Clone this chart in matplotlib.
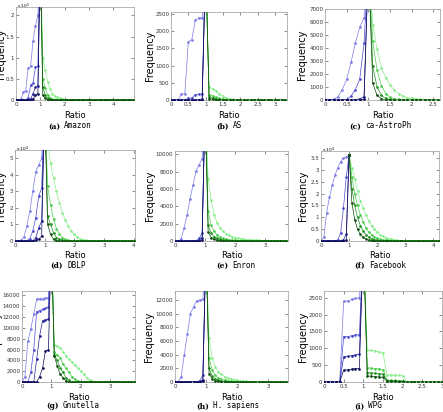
import numpy as np
import matplotlib.pyplot as plt
from matplotlib.ticker import MultipleLocator, FuncFormatter
from matplotlib.offsetbox import TextArea, HPacker, AnchoredOffsetbox

# one entry per panel, (a) .. (i)
letters = ['a', 'b', 'c', 'd', 'e', 'f', 'g', 'h', 'i']
names = ['Amazon', 'AS', 'ca-AstroPh', 'DBLP', 'Enron', 'Facebook',
         'Gnutella', 'H. sapiens', 'WPG']
x_last = [4.8, 3.3, 2.6, 4.0, 3.7, 4.2, 3.8, 3.6, 3.0]      # last ratio bin
x_lim = [4.85, 3.35, 2.65, 4.05, 3.75, 4.2, 3.85, 3.65, 3.0]
y_lim = [2.2, 2560, 7000, 5.5, 10400, 3.8, 16800, 13300, 2700]
x_tick = [1, 0.5, 0.5, 1, 1, 1, 1, 1, 0.5]
y_tick = [0.5, 500, 1000, 1, 2000, 0.5, 2000, 2000, 500]
y_exp = [5, None, None, 4, None, 4, None, None, None]
# frequency in the ratio = 1 bin
peak = [3.5, 4000, 10500, 8.5, 16000, 3.65, 26000, 20000, 4200]

# ratio < 1 : bins 0.0 .. 0.9 (light -> dark)
blue = [
    [[0, 0, 0.02, 0.18, 0.22, 0.75, 0.8, 1.4, 1.75, 2.0],
     [0, 0, 0, 0, 0, 0.05, 0.35, 0.4, 0.78, 0.8],
     [0, 0, 0, 0, 0, 0, 0.02, 0.15, 0.3, 0.33],
     [0, 0, 0, 0, 0, 0, 0, 0.02, 0.12, 0.15]],
    [[0, 0, 0, 170, 180, 1700, 1750, 2330, 2380, 2400],
     [0, 0, 0, 0, 0, 50, 60, 150, 170, 170],
     [0, 0, 0, 0, 0, 0, 0, 0, 10, 20],
     [0, 0, 0, 0, 0, 0, 0, 0, 0, 0]],
    [[0, 0, 50, 250, 800, 1600, 2900, 4400, 5600, 6300],
     [0, 0, 0, 0, 0, 50, 300, 800, 1600, 4400],
     [0, 0, 0, 0, 0, 0, 0, 30, 100, 250],
     [0, 0, 0, 0, 0, 0, 0, 0, 20, 60]],
    [[0, 0, 0.05, 0.25, 0.9, 1.8, 3.0, 4.2, 4.6, 5.0],
     [0, 0, 0, 0, 0.02, 0.15, 0.6, 1.4, 2.7, 3.2],
     [0, 0, 0, 0, 0, 0, 0.02, 0.2, 0.8, 1.2],
     [0, 0, 0, 0, 0, 0, 0, 0.05, 0.1, 0.3]],
    [[0, 0, 200, 1500, 3000, 4900, 6500, 8100, 8800, 9500],
     [0, 0, 0, 0, 0, 0, 0, 50, 300, 900],
     [0, 0, 0, 0, 0, 0, 0, 0, 100, 400],
     [0, 0, 0, 0, 0, 0, 0, 0, 20, 100]],
    [[0, 0.15, 1.2, 1.85, 2.35, 2.8, 3.1, 3.35, 3.5, 3.55],
     [0, 0, 0, 0, 0, 0, 0.05, 0.35, 1.4, 2.7],
     [0, 0, 0, 0, 0, 0, 0, 0, 0.05, 0.3],
     [0, 0, 0, 0, 0, 0, 0, 0, 0, 0.05]],
    [[0, 1000, 7500, 9800, 12500, 15300, 15400, 15400, 15500, 15600],
     [0, 0, 0, 1800, 6000, 13000, 13200, 13400, 13600, 13800],
     [0, 0, 0, 0, 0, 4200, 8500, 11300, 11500, 11600],
     [0, 0, 0, 0, 0, 0, 1000, 2500, 5800, 5900]],
    [[0, 0, 800, 4000, 7000, 10000, 11000, 11900, 12000, 12100],
     [0, 0, 0, 0, 0, 0, 0, 50, 200, 1000],
     [0, 0, 0, 0, 0, 0, 0, 0, 50, 300],
     [0, 0, 0, 0, 0, 0, 0, 0, 0, 100]],
    [[0, 0, 0, 0, 0, 2400, 2400, 2450, 2480, 2500],
     [0, 0, 0, 0, 0, 1350, 1350, 1370, 1400, 1400],
     [0, 0, 0, 0, 0, 750, 760, 780, 800, 820],
     [0, 0, 0, 0, 0, 350, 360, 380, 400, 400]],
]

# ratio > 1 : bins 1.1, 1.2, ... (light -> dark), zero after the listed values
green = [
    [[1.0, 0.72, 0.42, 0.26, 0.15, 0.09, 0.06, 0.04, 0.03, 0.02, 0.01, 0.01],
     [0.5, 0.28, 0.12, 0.05, 0.02, 0.01],
     [0.3, 0.12, 0.04, 0.02, 0.01],
     [0.12, 0.04, 0.01]],
    [[380, 330, 260, 180, 110, 60, 30, 15, 5],
     [160, 120, 80, 45, 25, 10, 5],
     [100, 60, 35, 15, 5],
     [40, 20, 5]],
    [[5800, 3900, 2500, 1700, 1150, 750, 480, 300, 190, 120, 70, 40, 20, 10, 5],
     [4500, 2300, 1100, 500, 230, 100, 40, 15, 5],
     [2600, 1000, 350, 120, 40, 10],
     [1300, 350, 90, 20]],
    [[6.0, 4.7, 3.8, 3.0, 2.3, 1.7, 1.25, 0.9, 0.6, 0.4, 0.25, 0.15, 0.08, 0.04, 0.02, 0.01],
     [3.3, 2.2, 1.3, 0.75, 0.4, 0.2, 0.1, 0.05, 0.02],
     [1.5, 1.0, 0.5, 0.2, 0.1, 0.04, 0.01],
     [1.0, 0.4, 0.1, 0.03]],
    [[7200, 4700, 3000, 2100, 1500, 1100, 850, 650, 500, 400, 320, 250, 200,
      160, 130, 100, 80, 60, 50, 40, 30, 20, 15, 10, 5],
     [3500, 1800, 1100, 700, 450, 300, 200, 150, 100, 70, 50, 30, 20, 10],
     [1800, 900, 500, 300, 200, 120, 80, 50, 30, 15, 5],
     [1000, 400, 200, 100, 50, 20]],
    [[3.1, 2.6, 2.1, 1.7, 1.4, 1.1, 0.85, 0.65, 0.5, 0.37, 0.27, 0.2, 0.14,
      0.1, 0.07, 0.05, 0.03, 0.02, 0.01],
     [2.7, 2.0, 1.5, 1.1, 0.8, 0.55, 0.38, 0.26, 0.18, 0.12, 0.08, 0.05, 0.03, 0.02, 0.01],
     [2.2, 1.5, 1.0, 0.65, 0.42, 0.27, 0.17, 0.1, 0.06, 0.03, 0.02, 0.01],
     [1.6, 0.9, 0.5, 0.28, 0.15, 0.08, 0.04, 0.02, 0.01]],
    [[6900, 6600, 6300, 5600, 4800, 4200, 3700, 3100, 2600, 2000, 1400, 800, 400, 100],
     [5500, 5000, 4500, 3300, 2500, 1800, 1000, 500, 200],
     [5000, 4000, 2600, 1800, 800, 300],
     [4800, 3000, 1400, 800, 200]],
    [[6500, 3500, 2200, 1500, 1100, 800, 600, 450, 350, 250, 180, 130, 100,
      70, 50, 30, 20, 10],
     [3500, 1800, 1000, 600, 400, 250, 150, 100, 60, 30, 10],
     [2000, 900, 500, 250, 150, 80, 40, 20],
     [1200, 500, 200, 100, 40, 10]],
    [[950, 940, 920, 900, 860, 220, 210, 210, 200, 190],
     [420, 410, 400, 390, 370, 60, 50, 50, 40, 40],
     [280, 270, 260, 250, 230, 40, 30, 30, 25, 20],
     [180, 170, 160, 150, 140, 20, 20, 15, 10, 10]],
]

blue_cols = ['#7b7be6', '#4a4ad0', '#24249a', '#0a0a55']
green_cols = ['#86ee86', '#4ccc4c', '#1f8f1f', '#0b4d0b']

# panel boxes in pixels: left, right, top, bottom
boxes = [(16, 134, 7, 100), (171, 287, 12, 100), (325, 440, 9, 100),
         (15, 135, 150, 241), (175, 288, 151, 241), (321, 439, 151, 241),
         (22, 135, 291, 382), (175, 288, 291, 382), (324, 442, 291, 382)]
ylab_x = [6, 155, 307, 6, 155, 308, 2, 154, 308]
cap_pos = [(70, 126), (229, 126), (380, 126), (68, 265), (236, 265), (380, 265),
           (73, 406), (228, 406), (368, 406)]

W, H = 443, 412
fig = plt.figure(figsize=(W / 100, H / 100), dpi=100)

fmt = FuncFormatter(lambda v, p: f'{v:g}')

for k in range(9):
    l, r, t, b = boxes[k]
    ax = fig.add_axes([l / W, 1 - b / H, (r - l) / W, (b - t) / H])

    xb = np.round(np.arange(0, 1.0, 0.1), 1)
    xg = np.round(np.arange(1.0, x_last[k] + 0.05, 0.1), 1)
    for j in range(4):
        yb = list(blue[k][j]) + [peak[k]]
        ax.plot(list(xb) + [1.0], yb, color=blue_cols[j], lw=0.5,
                marker='.', ms=1.8, zorder=3 + j)
        gv = [peak[k]] + list(green[k][j])
        gv = gv + [0] * (len(xg) - len(gv))
        ax.plot(xg, gv, color=green_cols[j], lw=0.5, marker='.', ms=1.8,
                zorder=3 + j)

    ax.set_xlim(0, x_lim[k])
    ax.set_ylim(0, y_lim[k])
    ax.xaxis.set_major_locator(MultipleLocator(x_tick[k]))
    ax.yaxis.set_major_locator(MultipleLocator(y_tick[k]))
    ax.xaxis.set_major_formatter(fmt)
    ax.yaxis.set_major_formatter(fmt)
    ax.tick_params(direction='in', length=2, width=0.4, labelsize=4,
                   pad=1.2, top=True, right=True, colors='#333333')
    for s in ax.spines.values():
        s.set_color('#aaaaaa')
        s.set_linewidth(0.6)

    ax.set_xlabel('Ratio', fontsize=6, labelpad=0)
    ax.xaxis.set_label_coords(0.5, -10.5 / (b - t))
    ax.set_ylabel('Frequency', fontsize=7, labelpad=0)
    ax.yaxis.set_label_coords((ylab_x[k] - l) / (r - l), 0.5)

    if y_exp[k]:
        ax.annotate(r'x 10$^{%d}$' % y_exp[k], xy=(0, 1), xycoords='axes fraction',
                    xytext=(0.5, 0.3), textcoords='offset points',
                    fontsize=3.2, ha='left', va='center')

    cap = HPacker(children=[
        TextArea('(%s)' % letters[k],
                 textprops=dict(family='serif', weight='bold', size=5.5)),
        TextArea(names[k], textprops=dict(family='monospace', size=5.5))],
        align='baseline', pad=0, sep=3)
    cx, cy = cap_pos[k]
    fig.add_artist(AnchoredOffsetbox(loc='center', child=cap,
                                     bbox_to_anchor=(cx / W, 1 - cy / H),
                                     bbox_transform=fig.transFigure,
                                     frameon=False, pad=0, borderpad=0))

fig.savefig('out.png', dpi=100)
